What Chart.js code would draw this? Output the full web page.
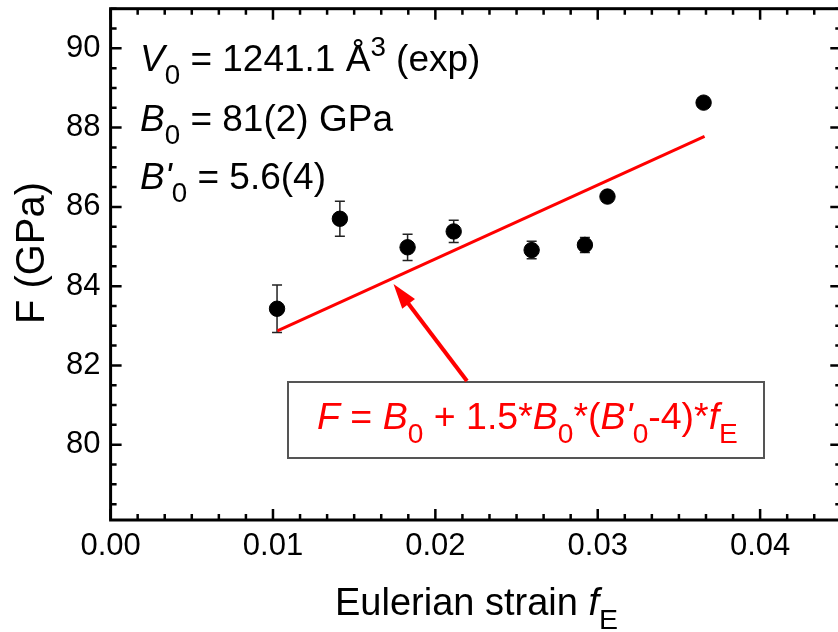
<!DOCTYPE html>
<html>
<head>
<meta charset="utf-8">
<script src="https://cdn.jsdelivr.net/npm/chart.js@4.4.0/dist/chart.umd.min.js"></script>
<style>
  html, body { margin: 0; padding: 0; background: #fff; overflow: hidden; }
  #wrap { width: 850px; height: 632px; }
</style>
</head>
<body>
<div id="wrap"><canvas id="chart" width="850" height="632"></canvas></div>
<script>
// Data
const strainFE = [0.01025, 0.01412, 0.01829, 0.02113, 0.02593, 0.02921, 0.03060, 0.03652];
const normStressF = [83.43, 85.70, 84.98, 85.38, 84.91, 85.04, 86.26, 88.63];
const errorF = [0.60, 0.44, 0.33, 0.28, 0.22, 0.19, 0.10, 0.05];

// Linear fit F = B0 + 1.5*B0*(B'0-4)*fE (end points as drawn)
const fitFE = [0.01027, 0.03658];
const fitF = [82.87, 87.78];

// Axis ticks
const xTicks = [0, 0.01, 0.02, 0.03, 0.04];
const yTicks = [80, 82, 84, 86, 88, 90];

const FONT = "'Liberation Sans', Arial, sans-serif";

// draw a run of text with italic / sub / sup parts
function richText(ctx, parts, x, y, size, color) {
    let cx = x;
    ctx.fillStyle = color;
    ctx.textBaseline = 'alphabetic';
    ctx.textAlign = 'left';
    parts.forEach(p => {
        const s = (p.sub || p.sup) ? size * 0.75 : size;
        const dy = p.sub ? size * 0.36 : (p.sup ? -size * 0.4 : 0);
        ctx.font = (p.it ? 'italic ' : '') + s + 'px ' + FONT;
        ctx.fillText(p.t, cx, y + dy);
        cx += ctx.measureText(p.t).width;
    });
    return cx;
}

// Error bars, frame, inward ticks, titles and annotations
const decorPlugin = {
    id: 'decor',
    beforeDatasetsDraw(chart) {
        const ctx = chart.ctx;
        const xs = chart.scales.x, ys = chart.scales.y;
        ctx.save();
        ctx.strokeStyle = '#222';
        ctx.lineWidth = 1.5;
        strainFE.forEach((fe, i) => {
            const px = xs.getPixelForValue(fe);
            const top = ys.getPixelForValue(normStressF[i] + errorF[i]);
            const bot = ys.getPixelForValue(normStressF[i] - errorF[i]);
            ctx.beginPath();
            ctx.moveTo(px, top); ctx.lineTo(px, bot);
            ctx.moveTo(px - 5, top); ctx.lineTo(px + 5, top);
            ctx.moveTo(px - 5, bot); ctx.lineTo(px + 5, bot);
            ctx.stroke();
        });
        ctx.restore();
    },
    afterDraw(chart) {
        const ctx = chart.ctx;
        const a = chart.chartArea;
        const xs = chart.scales.x, ys = chart.scales.y;
        ctx.save();

        // frame
        ctx.strokeStyle = '#000';
        ctx.lineWidth = 3;
        ctx.strokeRect(a.left, a.top, a.right - a.left, a.bottom - a.top);

        // inward ticks
        ctx.lineWidth = 2.5;
        ctx.beginPath();
        const xStep = 0.01 / 6;
        for (let k = 0; k * xStep <= xs.max + 1e-9; k++) {
            const v = k * xStep;
            const major = k % 6 === 0;
            const len = major ? 11 : 6;
            const px = xs.getPixelForValue(v);
            ctx.moveTo(px, a.bottom); ctx.lineTo(px, a.bottom - len);
            ctx.moveTo(px, a.top); ctx.lineTo(px, a.top + len);
        }
        for (let v = 78.5; v <= ys.max + 1e-9; v += 0.5) {
            const major = yTicks.includes(v);
            const len = major ? 11 : 6;
            const py = ys.getPixelForValue(v);
            ctx.moveTo(a.left, py); ctx.lineTo(a.left + len, py);
            ctx.moveTo(a.right, py); ctx.lineTo(a.right - len, py);
        }
        ctx.stroke();

        // axis titles
        ctx.save();
        ctx.translate(33, 253);
        ctx.rotate(-Math.PI / 2);
        ctx.font = '40px ' + FONT;
        ctx.fillStyle = '#000';
        ctx.textAlign = 'center';
        ctx.textBaseline = 'middle';
        ctx.fillText('F (GPa)', 0, 0);
        ctx.restore();

        richText(ctx, [{t: 'Eulerian strain '}, {t: 'f', it: true}, {t: 'E', sub: true}], 335, 615, 38, '#000');

        // parameter text
        richText(ctx, [{t: 'V', it: true}, {t: '0', sub: true}, {t: ' = 1241.1 Å'}, {t: '3', sup: true}, {t: ' (exp)'}], 140, 71, 37, '#000');
        richText(ctx, [{t: 'B', it: true}, {t: '0', sub: true}, {t: ' = 81(2) GPa'}], 140, 131, 37, '#000');
        richText(ctx, [{t: "B'", it: true}, {t: '0', sub: true}, {t: ' = 5.6(4)'}], 140, 189, 37, '#000');

        // formula box
        ctx.fillStyle = '#fff';
        ctx.fillRect(288, 382, 476, 76);
        ctx.strokeStyle = '#555';
        ctx.lineWidth = 2;
        ctx.strokeRect(288, 382, 476, 76);
        richText(ctx, [
            {t: 'F', it: true}, {t: ' = '}, {t: 'B', it: true}, {t: '0', sub: true},
            {t: ' + 1.5*'}, {t: 'B', it: true}, {t: '0', sub: true}, {t: '*('},
            {t: "B'", it: true}, {t: '0', sub: true}, {t: '-4)*'},
            {t: 'f', it: true}, {t: 'E', sub: true}
        ], 317, 429, 37.5, '#ff0000');

        // arrow from box to fit line
        const tail = {x: 467, y: 381}, tip = {x: 393.5, y: 284};
        const dx = tip.x - tail.x, dy = tip.y - tail.y;
        const L = Math.hypot(dx, dy);
        const ux = dx / L, uy = dy / L;
        const hl = 25, hw = 8;
        const bx = tip.x - ux * hl, by = tip.y - uy * hl;
        ctx.strokeStyle = '#ff0000';
        ctx.fillStyle = '#ff0000';
        ctx.lineWidth = 4;
        ctx.beginPath();
        ctx.moveTo(tail.x, tail.y); ctx.lineTo(bx + ux * 4, by + uy * 4);
        ctx.stroke();
        ctx.beginPath();
        ctx.moveTo(tip.x, tip.y);
        ctx.lineTo(bx - uy * hw, by + ux * hw);
        ctx.lineTo(bx + uy * hw, by - ux * hw);
        ctx.closePath();
        ctx.fill();

        ctx.restore();
    }
};

const ctx = document.getElementById('chart').getContext('2d');
new Chart(ctx, {
    type: 'scatter',
    data: {
        datasets: [
            {
                label: 'fit',
                data: fitFE.map((x, i) => ({x: x, y: fitF[i]})),
                showLine: true,
                borderColor: '#ff0000',
                borderWidth: 3,
                pointRadius: 0,
                order: 2
            },
            {
                label: 'F',
                data: strainFE.map((x, i) => ({x: x, y: normStressF[i]})),
                backgroundColor: '#000',
                borderColor: '#000',
                pointRadius: 7.7,
                pointHoverRadius: 7.7,
                order: 1
            }
        ]
    },
    options: {
        responsive: false,
        animation: false,
        devicePixelRatio: 1,
        layout: {padding: {top: 4.3, right: 4.5, left: 0, bottom: 0}},
        plugins: {legend: {display: false}, tooltip: {enabled: false}},
        scales: {
            x: {
                type: 'linear', min: 0, max: 0.045,
                grid: {display: false, drawTicks: false},
                border: {display: false},
                afterBuildTicks: s => { s.ticks = xTicks.map(v => ({value: v})); },
                afterFit: s => { s.height = 112; s.paddingLeft = 0; s.paddingRight = 0; },
                ticks: {
                    padding: 8, color: '#000', maxRotation: 0, autoSkip: false,
                    font: {family: FONT, size: 31},
                    callback: v => Number(v).toFixed(2)
                }
            },
            y: {
                type: 'linear', min: 78.1, max: 91,
                grid: {display: false, drawTicks: false},
                border: {display: false},
                afterBuildTicks: s => { s.ticks = yTicks.map(v => ({value: v})); },
                afterFit: s => { s.width = 110.6; s.paddingTop = 0; s.paddingBottom = 0; },
                ticks: {
                    padding: 10, color: '#000', autoSkip: false,
                    font: {family: FONT, size: 31},
                    callback: v => String(v)
                }
            }
        }
    },
    plugins: [decorPlugin]
});
</script>
</body>
</html>
